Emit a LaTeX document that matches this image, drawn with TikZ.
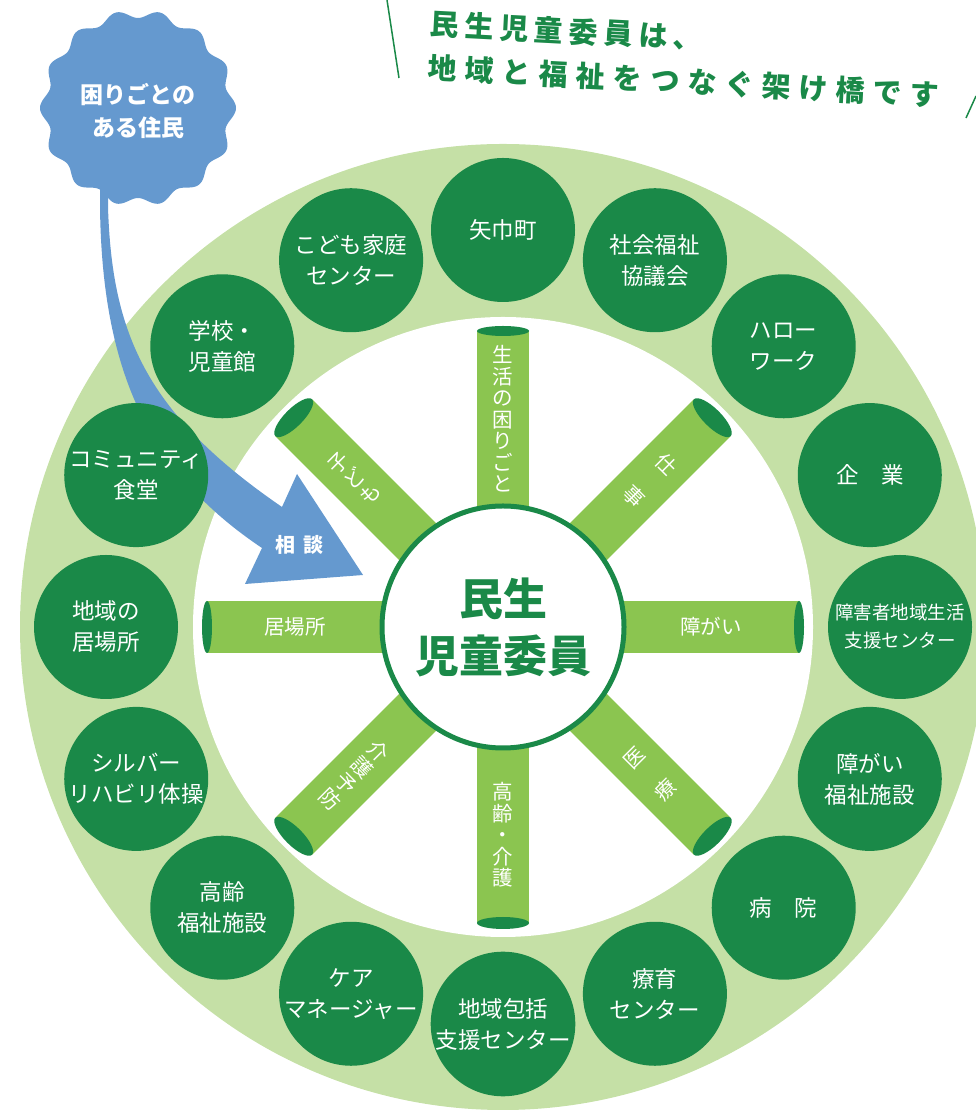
\documentclass[tikz,border=0pt]{standalone}
\usepackage{fontspec}
\setmainfont{Noto Sans CJK JP}
\newfontfamily\titleone{Noto Sans CJK JP}[LetterSpace=20]
\newfontfamily\titletwo{Noto Sans CJK JP}[LetterSpace=28]
\definecolor{ringlight}{RGB}{197,224,166}
\definecolor{circdark}{RGB}{26,137,72}
\definecolor{tubegreen}{RGB}{139,197,80}
\definecolor{badgeblue}{RGB}{101,153,207}
\tikzset{
  hub/.style={circle, fill=circdark, text=white, minimum size=144pt, inner sep=0pt,
    align=center, font=\fontsize{22.5}{31}\selectfont},
  tubetext/.style={text=white, align=center, inner sep=0pt, font=\fontsize{20.5}{21.5}\selectfont},
  slanttext/.style={tubetext, font=\fontsize{20.5}{22.5}\selectfont},
  titletext/.style={text=circdark, inner sep=0pt, font=\bfseries\fontsize{29}{32}\selectfont},
}
\newcommand{\hubnode}[4][]{\node[hub,#1] (#2) at (#3:397) {#4};}
\newcommand{\drawtube}[2]{
  \fill[tubegreen, rotate=#1] (0,-26) rectangle (296,26);
  \fill[circdark, rotate=#1] (296,0) ellipse (#2 and 26);
}
\begin{document}
\begin{tikzpicture}[x=1pt, y=1pt]
\path[use as bounding box, clip] (0,0) rectangle (976,1113);
% title
\draw[circdark, line width=1.5pt] (387,1113) -- (399,1035);
\draw[circdark, line width=1.5pt] (966,995) -- (976,1017);
\node[titletext, anchor=west, rotate=-3] (title1) at (430,1089) {\titleone 民生児童委員は、};
\node[titletext, anchor=west, rotate=-3] (title2) at (428,1045) {\titletwo 地域と福祉をつなぐ架け橋です};
% ring
\begin{scope}[shift={(503,486)}]
  \fill[ringlight] (0,0) circle (483);
  \fill[white] (0,0) circle (310);
\end{scope}
% consultation arrow
\fill[badgeblue] (100,950) -- (100,906) .. controls (102,740) and (150,640) .. (262,565)
  -- (245,529) -- (363,538) -- (297,639) -- (282,606)
  .. controls (145,700) and (112,780) .. (108,906) -- (108,950) -- cycle;
\node[text=white, font=\bfseries\fontsize{20}{22}\selectfont] (consult) at (299,568) {相\hspace{8pt}談};
% resident badge
\fill[badgeblue] plot[domain=0:360, samples=281, variable=\t]
  ({138+(94+4*cos(14*(\t-180)))*cos(\t)}, {1005+(94+4*cos(14*(\t-180)))*sin(\t)}) -- cycle;
\node[text=white, align=center, font=\bfseries\fontsize{23}{33}\selectfont] (resident) at (138,1002) {困りごとの\\ある住民};
\begin{scope}[shift={(503,486)}]
  % partners
  \hubnode{yahaba}{90}{矢巾町}
  \hubnode{shakyo}{67.5}{社会福祉\\協議会}
  \hubnode{hello}{45}{ハロー\\ワーク}
  \hubnode{company}{22.5}{企　業}
  \hubnode[font=\fontsize{18.5}{28}\selectfont]{shien}{0}{障害者地域生活\\支援センター}
  \hubnode{shogai}{-22.5}{障がい\\福祉施設}
  \hubnode{hospital}{-45}{病　院}
  \hubnode{ryoiku}{-67.5}{療育\\センター}
  \hubnode{hokatsu}{-90}{地域包括\\支援センター}
  \hubnode{caremgr}{-112.5}{ケア\\マネージャー}
  \hubnode{koreifac}{-135}{高齢\\福祉施設}
  \hubnode{silver}{-157.5}{シルバー\\リハビリ体操}
  \hubnode{ibasho}{180}{地域の\\居場所}
  \hubnode{shokudo}{157.5}{コミュニティ\\食堂}
  \hubnode{school}{135}{学校・\\児童館}
  \hubnode{kodomo}{112.5}{こども家庭\\センター}
  % tubes
  \drawtube{90}{5}
  \drawtube{45}{9}
  \drawtube{0}{5}
  \drawtube{-45}{9}
  \drawtube{-90}{6}
  \drawtube{-135}{9}
  \drawtube{180}{5}
  \drawtube{135}{9}
  \node[circle, draw=circdark, line width=5pt, fill=white, minimum size=242pt, inner sep=0pt,
    text=circdark, align=center, font=\bfseries\fontsize{44}{57}\selectfont] (minsei) at (0,0) {民生\\児童委員};
  \node[tubetext] (tlife) at (90:208) {生\\活\\の\\困\\り\\ご\\と};
  \node[slanttext, rotate=-45] (twork) at (45:208) {仕\\[22.5pt]事};
  \node[tubetext] (tdisab) at (0:208) {障がい};
  \node[slanttext, rotate=45] (tmed) at (-45:208) {医\\[22.5pt]療};
  \node[tubetext] (telder) at (-90:208) {高\\齢\\・\\介\\護};
  \node[slanttext, rotate=-45] (tprev) at (-135:210) {介\\護\\予\\防};
  \node[tubetext] (tplace) at (180:208) {居場所};
  \node[slanttext, rotate=45] (tchild) at (135:210) {子\\ど\\も};
\end{scope}
\end{tikzpicture}
\end{document}
